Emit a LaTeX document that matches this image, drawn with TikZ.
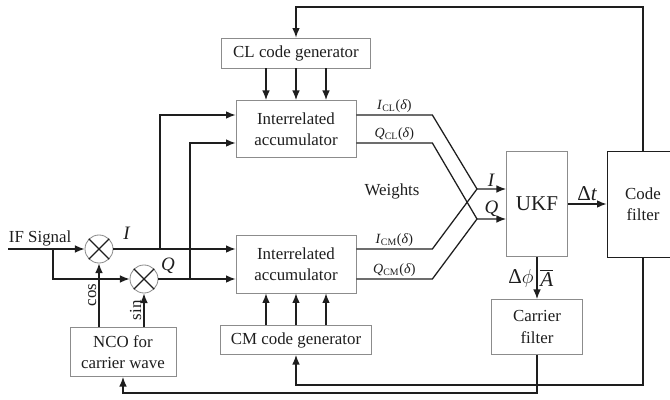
\documentclass[tikz,border=0pt]{standalone}
\usepackage{fontspec}
\setmainfont{Liberation Serif}
\usetikzlibrary{arrows.meta,calc}
\definecolor{grau}{HTML}{8C8C8C}
\definecolor{tinte}{HTML}{1E1E1E}
\tikzset{
  sig/.style={-{Latex[length=2.4mm,width=1.9mm]},tinte,line width=0.9pt},
  lin/.style={tinte,line width=0.9pt},
  blk/.style={draw=grau,line width=0.5pt,text=tinte,align=center,inner sep=0pt,font=\fontsize{12}{15}\selectfont},
  misch/.style={circle,draw=grau,line width=0.6pt,minimum size=0.7cm,inner sep=0pt},
  lab/.style={text=tinte,inner sep=1.5pt,font=\fontsize{12}{14}\selectfont},
  klab/.style={text=tinte,inner sep=1.5pt,font=\fontsize{10}{12}\selectfont},
  mlab/.style={text=tinte,inner sep=1.5pt,font=\fontsize{13.5}{16}\selectfont},
  glab/.style={text=tinte,inner sep=2pt,font=\fontsize{15}{18}\selectfont},
}

\begin{document}
\begin{tikzpicture}[x=0.025cm,y=-0.025cm]
  \useasboundingbox (0,0) rectangle (670,400);
  % blocks
  \node[blk,minimum width=3.72cm,minimum height=0.75cm] (clgen) at (296,53) {CL code generator};
  \node[blk,minimum width=3cm,minimum height=1.43cm] (accU) at (296,129) {Interrelated\\accumulator};
  \node[blk,minimum width=3cm,minimum height=1.45cm] (accL) at (296,264) {Interrelated\\accumulator};
  \node[blk,minimum width=3.78cm,minimum height=0.73cm] (cmgen) at (296,340) {CM code generator};
  \node[blk,minimum width=2.65cm,minimum height=1.23cm] (nco) at (123,352) {NCO for\\carrier wave};
  \node[blk,minimum width=1.53cm,minimum height=2.63cm,font=\fontsize{15}{18}\selectfont] (ukf) at (537,204) {UKF};
  \node[blk,draw=tinte,minimum width=1.8cm,minimum height=2.65cm] (cf) at (643,204) {Code\\filter};
  \node[blk,minimum width=2.28cm,minimum height=1.38cm] (carf) at (537,327) {Carrier\\filter};
  \node[misch] (mix1) at (99,249) {};
  \node[misch] (mix2) at (144,279) {};
  \foreach \m in {mix1,mix2}
    \draw[lin] (\m.north west) -- (\m.south east) (\m.north east) -- (\m.south west);
  \node[lab] (wts) at (392,191) {Weights};
  \node[mlab] (lI) at (127,233) {\textit{I}};
  \node[mlab] (lQ) at (168,266) {\textit{Q}};
  % branch points
  \coordinate (ifin) at (8,249);
  \coordinate (jIF) at (53,249);
  \coordinate (jI) at (160,249);
  \coordinate (jQ) at (190,279);
  \coordinate (pI) at (477,189);
  \coordinate (pQ) at (477,219);
  \coordinate (fbTop) at (0,7);
  \coordinate (fbCM) at (0,385);
  \coordinate (fbNCO) at (0,393);
  % input side
  \draw[sig] (ifin) -- (mix1.west) node[lab,pos=0.42,above]{IF Signal};
  \draw[sig] (jIF) |- (mix2.west);
  \draw[sig] (mix1.east) -- (mix1.east -| accL.west);
  \draw[sig] (mix2.east) -- (mix2.east -| accL.west);
  \draw[sig] (jI) |- ([yshift=0.35cm]accU.west);
  \draw[sig] (jQ) |- ([yshift=-0.35cm]accU.west);
  \draw[sig] (nco.north -| mix1.south) -- (mix1.south) node[lab,midway,sloped,above]{cos};
  \draw[sig] (nco.north -| mix2.south) -- (mix2.south) node[lab,midway,sloped,above]{sin};
  \foreach \dx in {-0.75,0,0.75} {
    \draw[sig] ([xshift=\dx cm]clgen.south) -- ([xshift=\dx cm]accU.north);
    \draw[sig] ([xshift=\dx cm]cmgen.north) -- ([xshift=\dx cm]accL.south);
  }
  % weights
  \draw[sig] ([yshift=0.35cm]accU.east) -- ++(76,0) node[klab,midway,above]{\textit{I}\textsubscript{CL}(\textit{δ})}
    -- (pI) -- (pI -| ukf.west) node[mlab,midway,above]{\textit{I}};
  \draw[sig] ([yshift=-0.35cm]accU.east) -- ++(76,0) node[klab,midway,above]{\textit{Q}\textsubscript{CL}(\textit{δ})}
    -- (pQ) -- (pQ -| ukf.west) node[mlab,midway,above]{\textit{Q}};
  \draw[lin] ([yshift=0.375cm]accL.east) -- ++(76,0) node[klab,midway,above]{\textit{I}\textsubscript{CM}(\textit{δ})} -- (pI);
  \draw[lin] ([yshift=-0.375cm]accL.east) -- ++(76,0) node[klab,midway,above]{\textit{Q}\textsubscript{CM}(\textit{δ})} -- (pQ);
  % filters and loops
  \draw[sig] (ukf.east) -- (cf.west) node[glab,midway,above]{Δ\textit{t}};
  \draw[sig] (ukf.south) -- (carf.north) node[glab,midway,left]{Δ$\phi$}
    node[glab,midway,right]{$\overline{\textit{A}}$};
  \draw[sig] (cf.north) |- (fbTop -| clgen.north) -- (clgen.north);
  \draw[sig] (cf.south) |- (fbCM -| cmgen.south) -- (cmgen.south);
  \draw[sig] (carf.south) |- (fbNCO -| nco.south) -- (nco.south);
\end{tikzpicture}
\end{document}
